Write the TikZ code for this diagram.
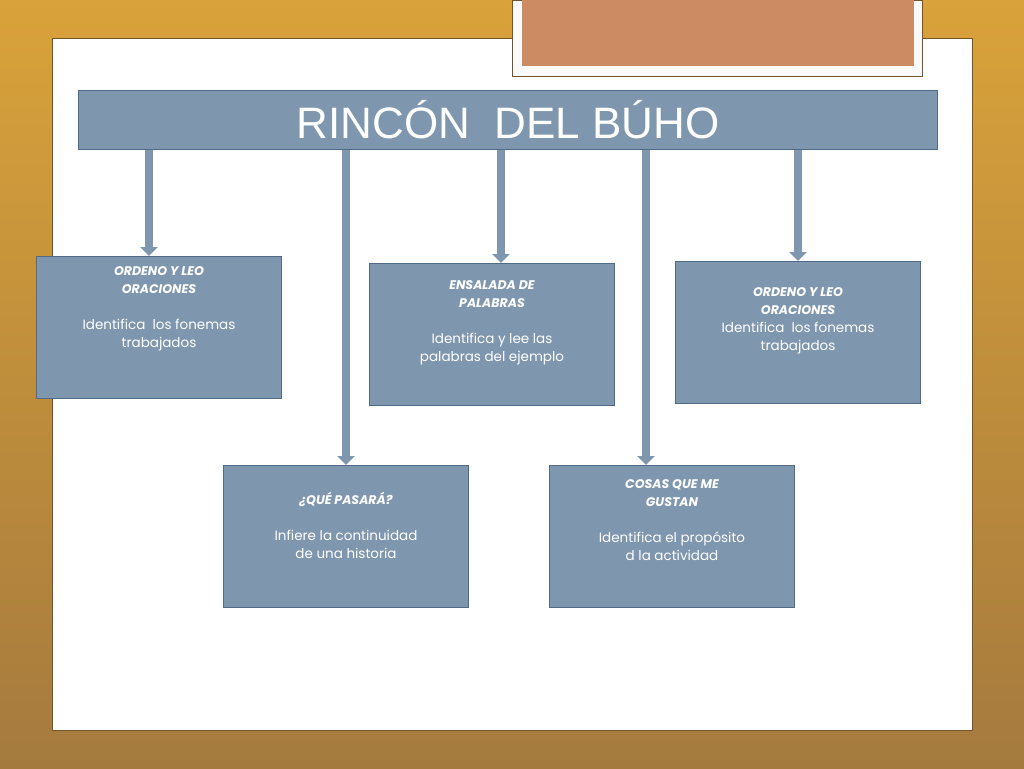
\documentclass[tikz,border=0pt]{standalone}
\usepackage{fontspec}
\setmainfont{Poppins}
\newfontfamily\titlefont{Liberation Sans}
\newcommand\headfont{\bfseries\itshape\fontsize{12.5}{18}\selectfont}
\newcommand\bodyfont{\mdseries\upshape\fontsize{13.5}{18}\selectfont}
\usetikzlibrary{arrows.meta}
\definecolor{boxfill}{HTML}{7F97AE}
\definecolor{boxline}{HTML}{4F6B88}
\definecolor{goldA}{HTML}{D9A23A}
\definecolor{goldB}{HTML}{A57A3E}
\definecolor{photo}{HTML}{CC8B62}
\begin{document}
\begin{tikzpicture}[x=1pt, y=-1pt,
    box/.style={rectangle, draw=boxline, fill=boxfill, line width=1pt, minimum width=245pt, minimum height=142pt, anchor=north west, align=center, text=white, font=\fontsize{13.5}{18}\selectfont, inner sep=0pt},
    arrow/.style={-{Triangle[length=9pt, width=17pt]}, line width=8pt, draw=boxfill}
]
    % Background
    \useasboundingbox (0,0) rectangle (1024,768);
    \shade[top color=goldA, bottom color=goldB] (0,0) rectangle (1024,768);
    \fill[white] (52,38) rectangle (972,730);
    \draw[goldB!70!black] (52,38) rectangle (972,730);
    \fill[white!95!gray] (512,0) rectangle (922,76);
    \draw[goldB!70!black] (512,0) rectangle (922,76);
    \fill[photo] (522,0) rectangle (914,66);

    % Title
    \node[box, minimum width=859pt, minimum height=59pt, font=\titlefont\fontsize{44}{44}\selectfont] (title) at (78,90) {RINCÓN\ \ DEL BÚHO};

    % Boxes
    \node[box] (oraA) at (36,256) {\headfont ORDENO Y LEO\\\headfont ORACIONES\\[18pt]\bodyfont Identifica\ \ los fonemas\\\bodyfont trabajados\\[22pt]};
    \node[box] (ensal) at (369,263) {\headfont ENSALADA DE\\\headfont PALABRAS\\[18pt]\bodyfont Identifica y lee las\\\bodyfont palabras del ejemplo\\[8pt]};
    \node[box] (oraB) at (675,261) {\headfont ORDENO Y LEO\\\headfont ORACIONES\\\bodyfont Identifica\ \ los fonemas\\\bodyfont trabajados\\[8pt]};
    \node[box] (pasara) at (223,465) {\headfont ¿QUÉ PASARÁ?\\[18pt]\bodyfont Infiere la continuidad\\\bodyfont de una historia\\[4pt]};
    \node[box] (cosas) at (549,465) {\headfont COSAS QUE ME\\\headfont GUSTAN\\[18pt]\bodyfont Identifica el propósito\\\bodyfont d la actividad\\[14pt]};

    % Arrows
    \draw[arrow] ([xshift=-10pt]title.south -| oraA.north) -- ([xshift=-10pt]oraA.north);
    \draw[arrow] (title.south -| pasara.north) -- (pasara.north);
    \draw[arrow] ([xshift=9pt]title.south -| ensal.north) -- ([xshift=9pt]ensal.north);
    \draw[arrow] ([xshift=-26pt]title.south -| cosas.north) -- ([xshift=-26pt]cosas.north);
    \draw[arrow] (title.south -| oraB.north) -- (oraB.north);
\end{tikzpicture}
\end{document}
